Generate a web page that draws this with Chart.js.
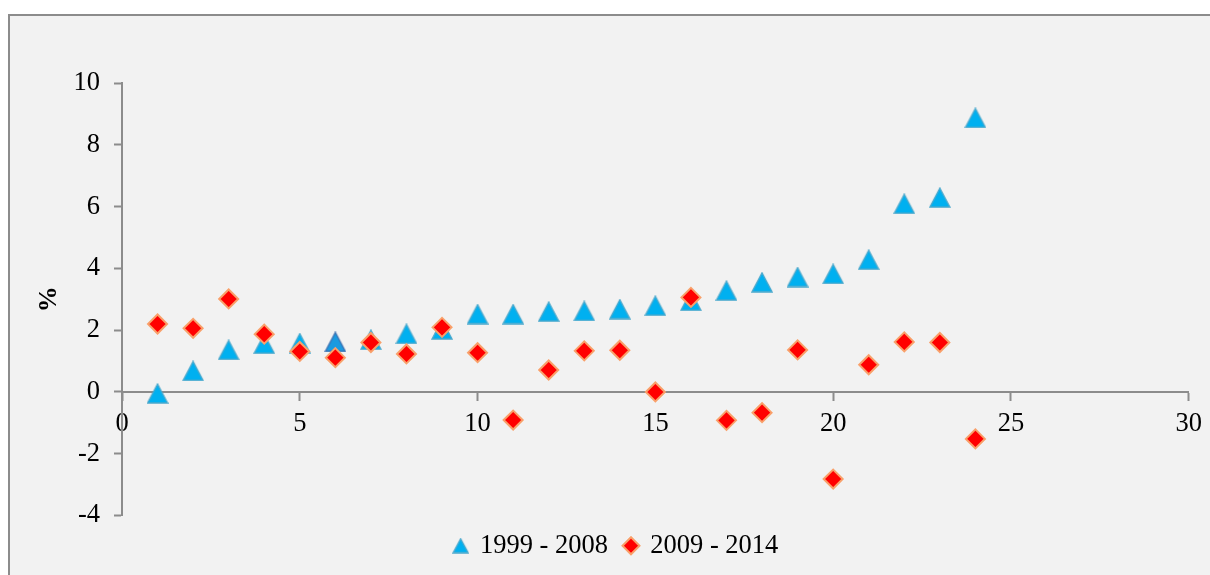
<!DOCTYPE html>
<html>
<head>
<meta charset="utf-8">
<script src="https://cdn.jsdelivr.net/npm/chart.js@4"></script>
<style>
  html, body { margin: 0; padding: 0; background: #ffffff; width: 1210px; height: 575px; overflow: hidden; }
  #frame { position: absolute; left: 8px; top: 14px; width: 1300px; height: 700px; border: 2px solid #8c8c8c; background: #f2f2f2; }
  #wrap { position: absolute; left: 0; top: 0; width: 1210px; height: 575px; }
</style>
</head>
<body>
<div id="frame"></div>
<div id="wrap"><canvas id="c" width="1210" height="575"></canvas></div>
<script>
const xValues = [1,2,3,4,5,6,7,8,9,10,11,12,13,14,15,16,17,18,19,20,21,22,23,24];
const series1999_2008 = [-0.05,0.68,1.36,1.56,1.58,1.62,1.69,1.88,2.02,2.52,2.52,2.6,2.62,2.68,2.79,2.95,3.28,3.55,3.72,3.82,4.28,6.09,6.29,8.87];
const series2009_2014 = [2.2,2.06,3.01,1.87,1.31,1.11,1.6,1.23,2.09,1.27,-0.91,0.71,1.33,1.35,0.0,3.06,-0.92,-0.67,1.36,-2.82,0.88,1.62,1.6,-1.52];
const seriesNames = ['1999 - 2008', '2009 - 2014'];
const xTicks = [0,5,10,15,20,25,30];
const yTicks = [-4,-2,0,2,4,6,8,10];

const toPoints = arr => xValues.map((x, i) => ({x: x, y: arr[i]}));
const serif = "'Liberation Serif', 'Times New Roman', serif";

// Excel-like triangle marker (bounding box centred on the value)
function makeTriangle(w, h, fill, stroke) {
  const c = document.createElement('canvas');
  c.width = w + 2; c.height = h + 2;
  const g = c.getContext('2d');
  g.beginPath();
  g.moveTo(1 + w / 2, 1);
  g.lineTo(1 + w, 1 + h);
  g.lineTo(1, 1 + h);
  g.closePath();
  g.fillStyle = fill;
  g.fill();
  g.lineWidth = 1.3;
  g.strokeStyle = stroke;
  g.stroke();
  return c;
}
const triNormal = makeTriangle(20, 19, '#00b0f0', '#4aa8cc');
const triDark = makeTriangle(20, 19, '#1a9ae0', '#3a6fb0');
const triLegend = makeTriangle(15, 14, '#00b0f0', '#4aa8cc');

const legendShift = {
  id: 'legendShift',
  afterLayout(chart) {
    if (chart.legend) { chart.legend.left += 22; chart.legend.right += 22; }
  }
};

new Chart(document.getElementById('c'), {
  type: 'scatter',
  data: {
    datasets: [
      {
        label: seriesNames[0],
        data: toPoints(series1999_2008),
        pointStyle: ctx => ctx.dataIndex === 5 ? triDark : triNormal,
        pointRadius: 10,
        pointHoverRadius: 10,
        backgroundColor: '#00b0f0',
        borderColor: '#4aa8cc',
        borderWidth: 1,
        order: 1
      },
      {
        label: seriesNames[1],
        data: toPoints(series2009_2014),
        pointStyle: 'rectRot',
        pointRadius: 9.5,
        pointHoverRadius: 9.5,
        backgroundColor: '#ff0000',
        borderColor: '#f9a06a',
        borderWidth: 2,
        order: 0
      }
    ]
  },
  plugins: [legendShift],
  options: {
    responsive: false,
    animation: false,
    events: [],
    layout: { padding: { left: 0, top: 83, right: 21, bottom: 6 } },
    plugins: {
      tooltip: { enabled: false },
      legend: {
        position: 'bottom',
        labels: {
          usePointStyle: true,
          boxWidth: 12,
          boxHeight: 12,
          padding: 17,
          color: '#000000',
          font: { family: serif, size: 26.5 },
          sort: (a, b) => a.datasetIndex - b.datasetIndex,
          generateLabels: chart => {
            const items = Chart.defaults.plugins.legend.labels.generateLabels(chart);
            items.forEach(it => {
              if (it.datasetIndex === 0) it.pointStyle = triLegend;
              else { it.pointStyle = 'rectRot'; it.fillStyle = '#ff0000'; it.strokeStyle = '#f9a06a'; it.lineWidth = 2; }
            });
            return items;
          }
        }
      }
    },
    scales: {
      x: {
        type: 'linear',
        position: { y: 0 },
        min: 0, max: 30,
        afterBuildTicks: s => { s.ticks = xTicks.map(v => ({value: v})); },
        ticks: { color: '#000000', font: { family: serif, size: 26.5 }, padding: 8, maxRotation: 0 },
        grid: { display: true, drawOnChartArea: false, drawTicks: true, tickLength: 8, tickWidth: 2, color: '#8c8c8c' },
        border: { display: true, color: '#8c8c8c', width: 2 }
      },
      y: {
        type: 'linear',
        position: 'left',
        min: -4, max: 10,
        afterBuildTicks: s => { s.ticks = yTicks.map(v => ({value: v})); },
        afterFit: s => { s.width = 122; },
        ticks: { color: '#000000', font: { family: serif, size: 26.5 }, padding: 14 },
        grid: { display: true, drawOnChartArea: false, drawTicks: true, tickLength: 8, tickWidth: 2, color: '#8c8c8c' },
        border: { display: true, color: '#8c8c8c', width: 2 },
        title: { display: true, text: '%', color: '#000000', font: { family: serif, size: 26, weight: 'bold' }, padding: { top: 34, bottom: 0 } }
      }
    }
  }
});
</script>
</body>
</html>
